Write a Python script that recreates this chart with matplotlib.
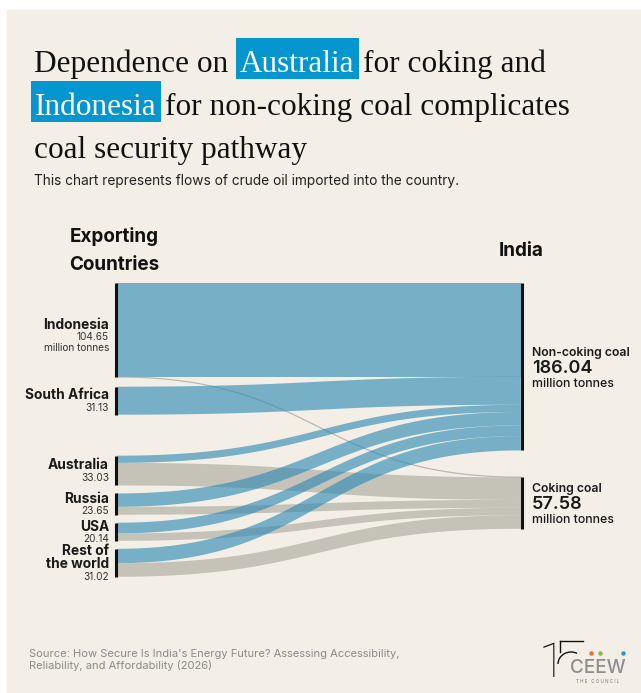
import matplotlib
matplotlib.use('Agg')
import matplotlib.pyplot as plt
from matplotlib.patches import Rectangle, Polygon, Arc
import numpy as np

# data (million tonnes)
sources = ['Indonesia', 'South Africa', 'Australia', 'Russia', 'USA', 'Rest of\nthe world']
source_totals = [104.65, 31.13, 33.03, 23.65, 20.14, 31.02]
targets = ['Non-coking coal', 'Coking coal']
target_totals = [186.04, 57.58]
non_coking = [104.15, 31.13, 8.00, 14.90, 11.90, 15.96]
coking = [0.50, 0.00, 25.03, 8.75, 8.24, 15.06]

title_lines = [
    [('Dependence on', False), ('Australia', True), ('for coking and', False)],
    [('Indonesia', True), ('for non-coking coal complicates', False)],
    [('coal security pathway', False)],
]
subtitle = 'This chart represents flows of crude oil imported into the country.'
source_note = ("Source: How Secure Is India's Energy Future? Assessing Accessibility,\n"
               "Reliability, and Affordability (2026)")

# style
W, H = 641, 693
BG = '#F3EFE6'
BLUE = '#2C89B5'
GREY = '#A9A79D'
HL = '#0596D0'
SANS = 'Inter'
SERIF = 'Liberation Serif'

scale = 0.9            # px per million tonnes
left_x, right_x = 116, 522
top = 283
left_gaps = [9.5, 41, 8, 8, 8]
right_gap = 26.5


def pt(px):
    return px * 72 / 100


def bezier_edge(x0, x1, y0, y1, n=80):
    t = np.linspace(0, 1, n)
    xm = (x0 + x1) / 2
    x = (1 - t) ** 3 * x0 + 3 * (1 - t) ** 2 * t * xm + 3 * (1 - t) * t ** 2 * xm + t ** 3 * x1
    y = (1 - t) ** 3 * y0 + 3 * (1 - t) ** 2 * t * y0 + 3 * (1 - t) * t ** 2 * y1 + t ** 3 * y1
    return x, y


fig = plt.figure(figsize=(W / 100, H / 100), dpi=100, facecolor='white')
ax = fig.add_axes([0, 0, 1, 1])
ax.set_xlim(0, W)
ax.set_ylim(H, 0)
ax.axis('off')
ax.add_patch(Rectangle((7, 10), W - 7, H - 10, color=BG, zorder=0))

renderer = fig.canvas.get_renderer()


def text_width(s, **kw):
    t = ax.text(0, 0, s, **kw)
    w = t.get_window_extent(renderer).width
    t.remove()
    return w


# ---- title: fit line 2 to its width in the reference
def line_width(pieces, size, pad):
    kw = dict(fontsize=size, family=SERIF)
    sp = text_width('a a', **kw) - text_width('aa', **kw)
    w = 0
    for s, hl in pieces:
        w += text_width(s, **kw) + (2 * pad if hl else 0)
    return w + sp * (len(pieces) - 1)


size0 = 24
w0 = line_width(title_lines[1], size0, 4)
title_size = size0 * (541 - 8) / (w0 - 8)
fs_px = title_size * 100 / 72
pad = 4
kw = dict(fontsize=title_size, family=SERIF, color='#111111', va='baseline', ha='left')
space = text_width('a a', **kw) - text_width('aa', **kw)
baselines = [72, 115, 158]
for pieces, yb in zip(title_lines, baselines):
    x = 34 if not pieces[0][1] else 31
    for s, hl in pieces:
        if hl:
            t = ax.text(x + pad, yb, s, **dict(kw, color='white'), zorder=5)
            w = t.get_window_extent(renderer).width
            ax.add_patch(Rectangle((x, yb - 1.08 * fs_px), w + 2 * pad, 1.3 * fs_px,
                                   color=HL, zorder=4, lw=0))
            x += w + 2 * pad + space * 0.6
        else:
            t = ax.text(x, yb, s, **kw, zorder=5)
            x += t.get_window_extent(renderer).width + space

ax.text(34, 185, subtitle, fontsize=9.9, family=SANS, color='#222222', va='baseline')

# ---- column headers
ax.text(114, 242.5, 'Exporting', fontsize=13.6, family=SANS, fontweight='bold',
        ha='center', va='baseline', color='#111111')
ax.text(114, 269.5, 'Countries', fontsize=13.6, family=SANS, fontweight='bold',
        ha='center', va='baseline', color='#111111')
ax.text(521, 256.5, 'India', fontsize=13.6, family=SANS, fontweight='bold',
        ha='center', va='baseline', color='#111111')

# ---- node positions
src_y = []
y = top
for i, v in enumerate(source_totals):
    src_y.append((y, y + v * scale))
    y += v * scale + (left_gaps[i] if i < len(left_gaps) else 0)

tgt_y = []
y = top
for v in target_totals:
    tgt_y.append((y, y + v * scale))
    y += v * scale + right_gap

# ---- links
flows = [non_coking, coking]
colors = [BLUE, GREY]
tgt_cursor = [tgt_y[0][0], tgt_y[1][0]]
x0, x1 = left_x + 1.2, right_x - 1.2
for i in range(len(sources)):
    sy = src_y[i][0]
    for j in range(2):
        v = flows[j][i]
        if v <= 0:
            continue
        th = v * scale
        ty = tgt_cursor[j]
        xt, yt = bezier_edge(x0, x1, sy, ty)
        xb, yb = bezier_edge(x0, x1, sy + th, ty + th)
        pts = np.vstack([np.column_stack([xt, yt]), np.column_stack([xb, yb])[::-1]])
        if th < 2:
            ax.plot(xt, yt + th / 2, color=colors[j], alpha=0.75, lw=0.9, zorder=2)
        else:
            ax.add_patch(Polygon(pts, closed=True, facecolor=colors[j], alpha=0.62,
                                 edgecolor='none', zorder=2))
        sy += th
        tgt_cursor[j] += th

# ---- node bars
for y0, y1 in src_y:
    ax.plot([left_x, left_x], [y0, y1], color='#111111', lw=2.2,
            solid_capstyle='butt', zorder=3)
for y0, y1 in tgt_y:
    ax.plot([right_x, right_x], [y0, y1], color='#111111', lw=2.2,
            solid_capstyle='butt', zorder=3)

# ---- source labels
for i, name in enumerate(sources):
    c = (src_y[i][0] + src_y[i][1]) / 2
    lines = name.split('\n')
    total = 9 + 13.5 * (len(lines) - 1) + 11.5
    yb = c - total / 2 + 9
    for ln in lines:
        ax.text(109, yb, ln, fontsize=9.9, family=SANS, fontweight='bold',
                ha='right', va='baseline', color='#1A1A1A')
        yb += 13.5
    yb += 11.5 - 13.5
    ax.text(109, yb, f'{source_totals[i]:.2f}', fontsize=7.3, family=SANS,
            ha='right', va='baseline', color='#333333')
    if i == 0:
        ax.text(109, yb + 11, 'million tonnes', fontsize=7.3, family=SANS,
                ha='right', va='baseline', color='#333333')

# ---- target labels
for k, name in enumerate(targets):
    c = (tgt_y[k][0] + tgt_y[k][1]) / 2
    ax.text(532, c - 11, name, fontsize=8.8, family=SANS, fontweight='semibold',
            ha='left', va='baseline', color='#1A1A1A')
    ax.text(532, c + 6.5, f'{target_totals[k]:.2f}', fontsize=13, family=SANS,
            fontweight='semibold', ha='left', va='baseline', color='#1A1A1A')
    ax.text(532, c + 20, 'million tonnes', fontsize=8.9, family=SANS,
            fontweight='medium', ha='left', va='baseline', color='#1A1A1A')

# ---- footer
ax.text(29, 669, source_note, fontsize=8, family=SANS, color='#8A8A8A',
        va='baseline', linespacing=1.15)

# logo
ax.text(552, 677, '1', fontsize=pt(48), family='Roboto', fontweight='light',
        ha='center', va='baseline', color='#111111')
ax.plot([560, 583], [641, 641], color='#111111', lw=1.0)
ax.plot([560, 560], [641, 652], color='#111111', lw=1.0)
ax.add_patch(Arc((571, 664), 26, 24, theta1=180, theta2=300, color='#111111', lw=1.0))
ax.text(598, 673, 'CEEW', fontsize=pt(19), family=SANS, fontweight='medium',
        ha='center', va='baseline', color='#8E8E8E')
for xd, cd in zip([591, 600, 623], ['#F26A2D', '#7DBB42', '#1E9BD7']):
    ax.plot(xd, 653, 'o', ms=3.2, color=cd, mec='none')
ax.text(598, 683, 'T H E   C O U N C I L', fontsize=3.3, family=SANS,
        ha='center', va='baseline', color='#777777')

fig.savefig('out.png', dpi=100, facecolor='white')
